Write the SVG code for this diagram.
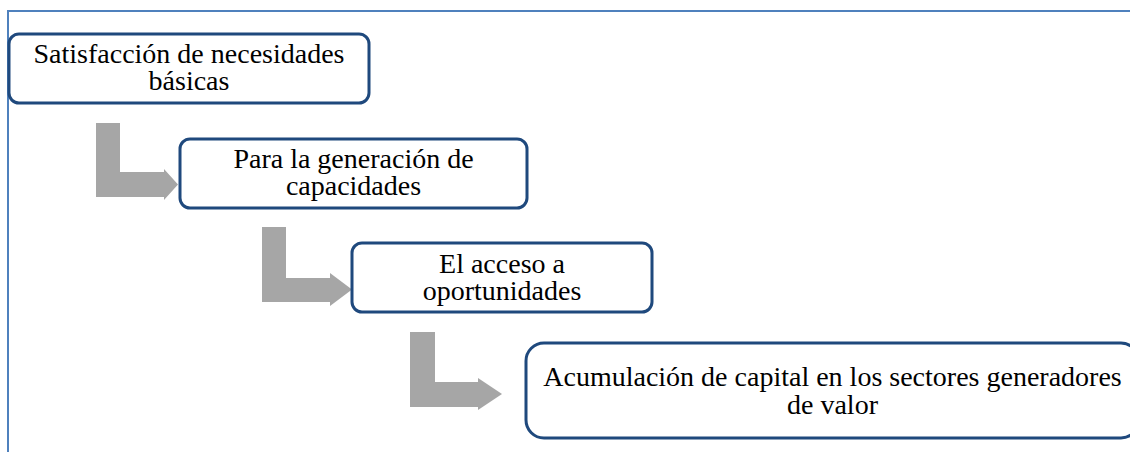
<svg xmlns="http://www.w3.org/2000/svg" width="1130" height="452" viewBox="0 0 1130 452">
<style>
.frame{fill:none;stroke:#4F81BD;stroke-width:2}
.box{fill:#FFFFFF;stroke:#1F497D;stroke-width:3}
.arrow{fill:#A6A6A6;stroke:none}
text{font-family:"Liberation Serif","Times New Roman",serif;font-size:28px;fill:#000000;text-anchor:middle}
</style>
<rect width="1130" height="452" fill="#FFFFFF"/>
<path class="frame" d="M8,452 V11 H1130"/>
<g id="connectors">
<path class="arrow" d="M96,123 H120 V172 H164 V169 L178,184.5 L164,200 V197 H96 Z"/>
<path class="arrow" d="M262,227 H286 V278 H330 V273 L352,289.5 L330,306 V302 H262 Z"/>
<path class="arrow" d="M410,332 H435 V382 H478 V378 L502,394 L478,410 V407 H410 Z"/>
</g>
<g id="node1">
<rect class="box" x="9" y="34" width="360" height="69" rx="10"/>
<text x="189" y="63">Satisfacción de necesidades</text>
<text x="189" y="90">básicas</text>
</g>
<g id="node2">
<rect class="box" x="180" y="139" width="347" height="69" rx="10"/>
<text x="353.5" y="168">Para la generación de</text>
<text x="353.5" y="195">capacidades</text>
</g>
<g id="node3">
<rect class="box" x="352" y="243" width="300" height="69" rx="10"/>
<text x="502" y="273">El acceso a</text>
<text x="502" y="300">oportunidades</text>
</g>
<g id="node4">
<rect class="box" x="526" y="343" width="613" height="95" rx="18"/>
<text x="832.5" y="386">Acumulación de capital en los sectores generadores</text>
<text x="832.5" y="414">de valor</text>
</g>
</svg>
